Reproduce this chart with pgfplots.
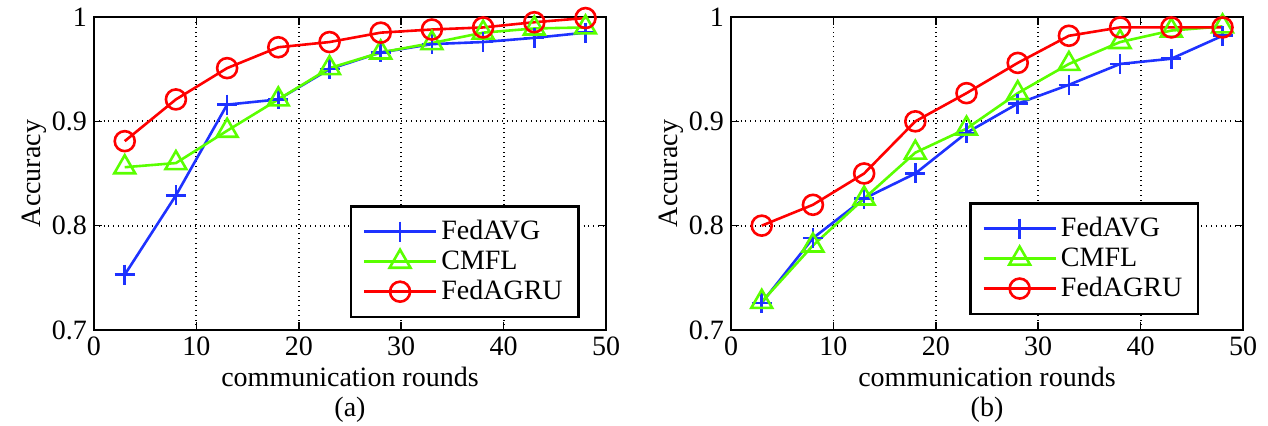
\documentclass[border=0pt]{standalone}
\usepackage{fontspec}
\setmainfont{Liberation Serif}
\usepackage{pgfplots}
\pgfplotsset{compat=1.18}

\definecolor{cblue}{RGB}{30,50,255}
\definecolor{cgreen}{RGB}{90,255,0}
\definecolor{cred}{RGB}{255,0,0}

\pgfplotsset{
  accplot/.style={
    scale only axis,
    width=256pt, height=156.5pt,
    xmin=0, xmax=50, ymin=0.7, ymax=1,
    xtick={0,10,...,50},
    ytick={0.7,0.8,0.9,1},
    yticklabels={0.7,0.8,0.9,1},
    grid=major,
    major grid style={black, dotted, line width=0.9pt},
    axis line style={line width=1.3pt},
    tick style={black, line width=0.8pt},
    tick align=inside,
    major tick length=4pt,
    font=\fontsize{14}{15}\selectfont,
    /pgf/number format/assume math mode=true,
    ylabel={Accuracy},
    ylabel style={yshift=-4pt},
    xlabel style={align=center, yshift=1.5pt},
    legend cell align=left,
    legend style={draw=black, line width=1.2pt, font=\fontsize{14}{17}\selectfont,
      inner xsep=6pt, inner ysep=5pt, row sep=0pt},
    legend image code/.code={
      \draw[mark repeat=2, mark phase=2] plot coordinates {(0pt,0pt) (18pt,0pt) (36pt,0pt)};
    },
  },
  avg/.style={cblue, line width=1.3pt, mark=+, mark size=5pt, mark options={line width=1.3pt}},
  cmf/.style={cgreen, line width=1.3pt, mark=triangle, mark size=6pt, mark options={line width=1.3pt}},
  agr/.style={cred, line width=1.3pt, mark=o, mark size=5pt, mark options={line width=1.3pt}},
}

\begin{document}
\begin{tikzpicture}
\useasboundingbox (0,0) rectangle (634pt,213pt);

\begin{axis}[accplot, at={(47pt,48pt)}, anchor=south west,
  xlabel={communication rounds\\(a)},
  legend style={at={(0.949,0.038)}, anchor=south east}]
\addplot[avg] coordinates {
  (3,0.753) (8,0.829) (13,0.916) (18,0.921) (23,0.950) (28,0.966) (33,0.974) (38,0.976) (43,0.980) (48,0.985)
};
\addplot[cmf] coordinates {
  (3,0.856) (8,0.860) (13,0.891) (18,0.921) (23,0.951) (28,0.966) (33,0.975) (38,0.985) (43,0.989) (48,0.990)
};
\addplot[agr] coordinates {
  (3,0.881) (8,0.921) (13,0.951) (18,0.971) (23,0.976) (28,0.985) (33,0.988) (38,0.990) (43,0.995) (48,0.999)
};
\legend{FedAVG, CMFL, FedAGRU}
\end{axis}

\begin{axis}[accplot, at={(365.5pt,48pt)}, anchor=south west,
  xlabel={communication rounds\\(b)},
  legend style={at={(0.915,0.048)}, anchor=south east}]
\addplot[avg] coordinates {
  (3,0.726) (8,0.788) (13,0.826) (18,0.850) (23,0.889) (28,0.917) (33,0.935) (38,0.955) (43,0.960) (48,0.982)
};
\addplot[cmf] coordinates {
  (3,0.727) (8,0.781) (13,0.826) (18,0.870) (23,0.893) (28,0.927) (33,0.955) (38,0.976) (43,0.987) (48,0.991)
};
\addplot[agr] coordinates {
  (3,0.800) (8,0.820) (13,0.850) (18,0.900) (23,0.927) (28,0.956) (33,0.982) (38,0.990) (43,0.990) (48,0.990)
};
\legend{FedAVG, CMFL, FedAGRU}
\end{axis}
\end{tikzpicture}
\end{document}
